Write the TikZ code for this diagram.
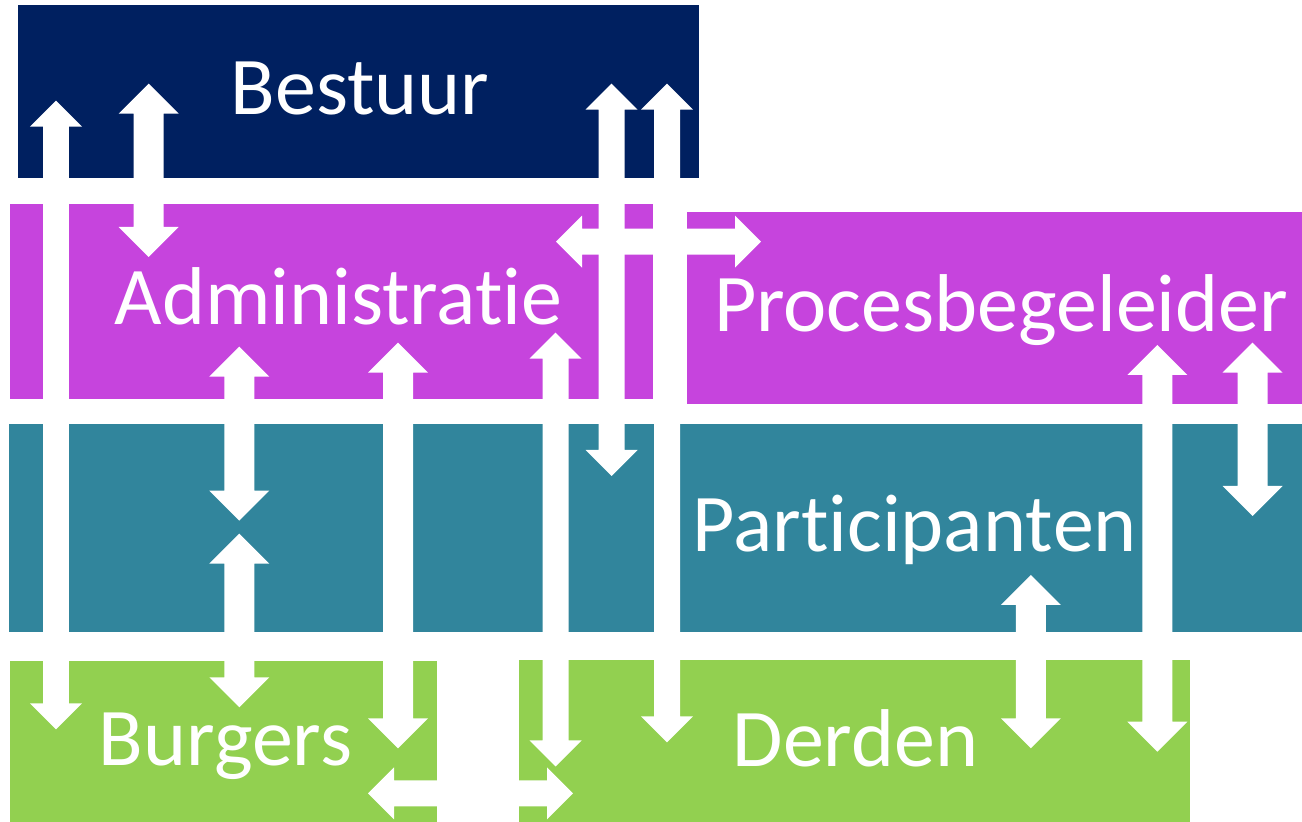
\documentclass[tikz,border=0pt]{standalone}
\usepackage{fontspec}
\setmainfont{Carlito}[RawFeature={-liga;-clig;-calt;-dlig}]
\usetikzlibrary{calc,fit}
\definecolor{navyc}{HTML}{002060}
\definecolor{magc}{HTML}{C644DD}
\definecolor{tealc}{HTML}{31859C}
\definecolor{greenc}{HTML}{92D050}
\tikzset{
  box/.style={draw=none, inner sep=0pt, outer sep=0pt},
  lbl/.style={text=white, font=\fontsize{41}{49}\selectfont, inner sep=0pt, anchor=base},
  blockarrow/.style 2 args={fill=white, draw=none, to path={
     -- ($(\tikztostart)!#1!45:(\tikztotarget)$)
     -- ($(\tikztostart)!#2!26.565:(\tikztotarget)$)
     -- ($(\tikztotarget)!#2!-26.565:(\tikztostart)$)
     -- ($(\tikztotarget)!#1!-45:(\tikztostart)$)
     -- (\tikztotarget)
     -- ($(\tikztotarget)!#1!45:(\tikztostart)$)
     -- ($(\tikztotarget)!#2!26.565:(\tikztostart)$)
     -- ($(\tikztostart)!#2!-26.565:(\tikztotarget)$)
     -- ($(\tikztostart)!#1!-45:(\tikztotarget)$)
     -- cycle}},
  bigarrow/.style={blockarrow={21.213pt}{16.771pt}},
  smallarrow/.style={blockarrow={18.385pt}{14.534pt}},
}
\begin{document}
\begin{tikzpicture}[x=0.5pt,y=-0.5pt]
\useasboundingbox (0,0) rectangle (1302,822);
% boxes
\node[box, fill=navyc, fit={(17.5,5) (699,178)}] (bestuur) {};
\node[box, fill=magc, fit={(10,204) (653.4,399)}] (admin) {};
\node[box, fill=magc, fit={(687,212) (1302,404)}] (proces) {};
\node[box, fill=tealc, fit={(8.5,424) (1302,632)}] (partic) {};
\node[box, fill=greenc, fit={(10,661) (437,822)}] (burgers) {};
\node[box, fill=greenc, fit={(519,660) (1190,822)}] (derden) {};
% labels
\node[lbl] (tBestuur) at (360,115) {Bestuur};
\node[lbl] (tAdmin) at (338.6,325) {Administrat\kern0pt ie};
\node[lbl] (tProces) at (1001,331.7) {Procesbegeleider};
\node[lbl] (tPartic) at (914.8,551.7) {Participant\kern0pt en};
\node[lbl] (tBurgers) at (225.5,765.7) {Burgers};
\node[lbl] (tDerden) at (855.5,766.7) {Derden};
% arrow end points
\coordinate (a1) at (56,100.7);   \coordinate (a2) at (56,729.3);
\coordinate (b1) at (148.7,83.7); \coordinate (b2) at (148.7,257);
\coordinate (c1) at (611.5,83.7); \coordinate (c2) at (611.5,476);
\coordinate (d1) at (667,83.7);   \coordinate (d2) at (667,742.3);
\coordinate (e1) at (555.5,332.7);\coordinate (e2) at (555.5,766.5);
\coordinate (f1) at (239.3,346.7);\coordinate (f2) at (239.3,520.7);
\coordinate (g1) at (239.3,533.7);\coordinate (g2) at (239.3,707.3);
\coordinate (h1) at (398,342.7);  \coordinate (h2) at (398,748.3);
\coordinate (i1) at (1030.8,575); \coordinate (i2) at (1030.8,748.3);
\coordinate (j1) at (1157.4,345); \coordinate (j2) at (1157.4,751.7);
\coordinate (k1) at (1252.5,342.7);\coordinate (k2) at (1252.5,516);
\coordinate (m1) at (556,241.7);  \coordinate (m2) at (761,241.7);
\coordinate (n1) at (368,793.3);  \coordinate (n2) at (573,793.3);
% arrows
\fill[smallarrow] (a1) to (a2);
\fill[bigarrow] (b1) to (b2);
\fill[smallarrow] (c1) to (c2);
\fill[smallarrow] (d1) to (d2);
\fill[smallarrow] (e1) to (e2);
\fill[bigarrow] (f1) to (f2);
\fill[bigarrow] (g1) to (g2);
\fill[bigarrow] (h1) to (h2);
\fill[bigarrow] (i1) to (i2);
\fill[bigarrow] (j1) to (j2);
\fill[bigarrow] (k1) to (k2);
\fill[smallarrow] (m1) to (m2);
\fill[smallarrow] (n1) to (n2);
\end{tikzpicture}
\end{document}
